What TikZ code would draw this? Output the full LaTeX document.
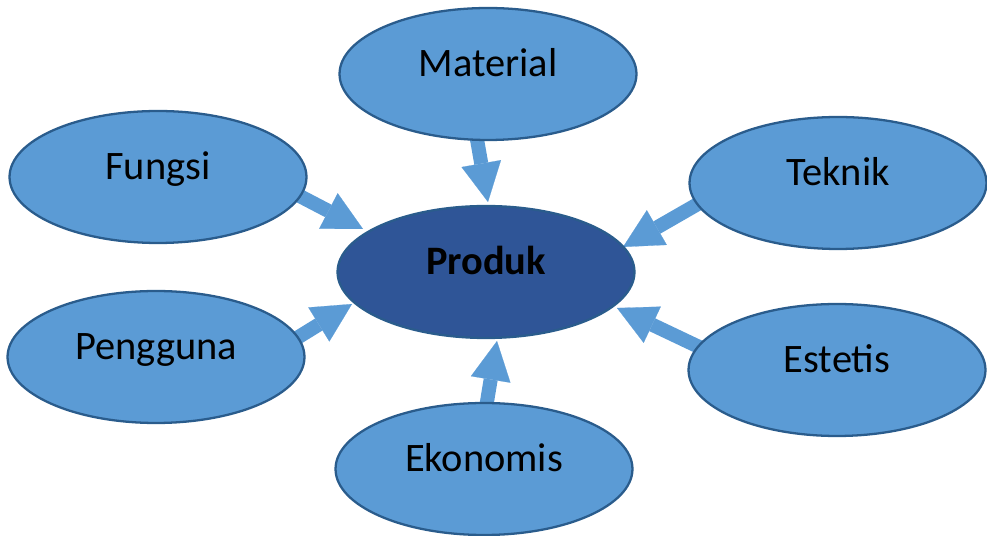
\documentclass[tikz,border=0pt]{standalone}
\usepackage{fontspec}
\setmainfont{Carlito}
\usetikzlibrary{shapes.geometric,arrows.meta,calc,backgrounds}

\definecolor{ovalfill}{HTML}{5B9BD5}
\definecolor{ovalline}{HTML}{2A5C8C}
\definecolor{corefill}{HTML}{2F5597}

\begin{document}
\begin{tikzpicture}[x=0.02cm,y=-0.02cm,
                    >={Triangle[width=22.8pt,length=22.2pt,line width=0.1pt]}]
  \tikzstyle{oval}=[draw=ovalline, line width=1.3pt, fill=ovalfill, ellipse,
                    minimum width=5.94cm, minimum height=2.64cm, inner sep=0pt,
                    font=\fontsize{23}{27}\selectfont, text height=16pt, text depth=12.6pt]
  \tikzstyle{core}=[oval, fill=corefill, font=\fontsize{23}{27}\selectfont\bfseries]
  \tikzstyle{feed}=[->, line width=8pt, draw=ovalfill]

  \useasboundingbox (0,0) rectangle (987,536);

  \node[core]  (produk)   at (486,272) {Produk};
  \node[oval]  (material) at (488,74)  {Material};
  \node[oval]  (fungsi)   at (158,177) {Fungsi};
  \node[oval]  (teknik)   at (838,183) {Teknik};
  \node[oval]  (pengguna) at (156,357) {Pengguna};
  \node[oval]  (estetis)  at (837,370) {Estetis};
  \node[oval]  (ekonomis) at (484,469) {Ekonomis};

  % arrow ends: tails hidden under the outer ovals
  \coordinate (material-out) at ($(material)+(-13,54)$);
  \coordinate (material-in)  at ($(produk)+(2,-70)$);
  \coordinate (fungsi-out)   at ($(fungsi)+(134,15)$);
  \coordinate (fungsi-in)    at ($(produk)+(-123,-43)$);
  \coordinate (teknik-out)   at ($(teknik)+(-128,14)$);
  \coordinate (teknik-in)    at ($(produk)+(137,-25)$);
  \coordinate (pengguna-out) at ($(pengguna)+(128,-11)$);
  \coordinate (pengguna-in)  at ($(produk)+(-134,32)$);
  \coordinate (estetis-out)  at ($(estetis)+(-121,-15)$);
  \coordinate (estetis-in)   at ($(produk)+(131,36)$);
  \coordinate (ekonomis-out) at ($(ekonomis)+(0,-49)$);
  \coordinate (ekonomis-in)  at ($(produk)+(11,69)$);

  \begin{pgfonlayer}{background}
    \path (material-out) edge[feed] (material-in)
          (fungsi-out)   edge[feed] (fungsi-in)
          (teknik-out)   edge[feed] (teknik-in)
          (pengguna-out) edge[feed] (pengguna-in)
          (estetis-out)  edge[feed] (estetis-in)
          (ekonomis-out) edge[feed] (ekonomis-in);
  \end{pgfonlayer}
\end{tikzpicture}
\end{document}
